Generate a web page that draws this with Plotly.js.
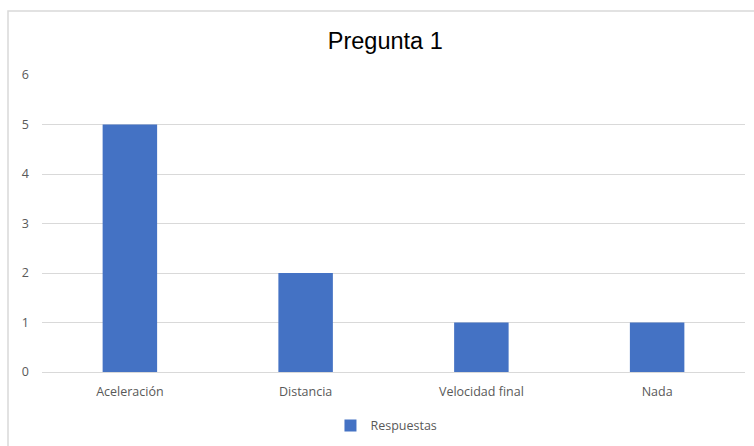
<!DOCTYPE html>
<html>
<head>
<meta charset="utf-8">
<script src="https://cdn.plot.ly/plotly-3.0.1.min.js"></script>
<style>html,body{margin:0;padding:0;background:#fff;}#chart{width:754px;height:446px;}</style>
</head>
<body>
<div id="chart"></div>
<script>
const categories = ["Aceleración", "Distancia", "Velocidad final", "Nada"];
const respuestas = [5, 2, 1, 1];
const seriesName = "Respuestas";
const yTicks = [0, 1, 2, 3, 4, 5, 6];

const trace = {
  type: "bar",
  x: categories,
  y: respuestas,
  name: seriesName,
  width: 0.31,
  marker: {color: "#4472C4"},
  showlegend: true,
  hoverinfo: "x+y"
};

const tickFont = {family: "Open Sans, sans-serif", size: 12.5, color: "#595959"};

const layout = {
  width: 754,
  height: 446,
  margin: {l: 42, r: 9, t: 75, b: 74},
  paper_bgcolor: "#ffffff",
  plot_bgcolor: "#ffffff",
  title: {
    text: "Pregunta 1",
    font: {family: "Liberation Sans, Arial, sans-serif", size: 23.5, color: "#000000"},
    x: 0.511, xanchor: "center", xref: "container",
    y: 0.908, yanchor: "middle", yref: "container"
  },
  xaxis: {
    type: "category",
    showgrid: false,
    zeroline: false,
    showline: false,
    ticks: "",
    ticklabelstandoff: 10,
    tickfont: tickFont,
    fixedrange: true
  },
  yaxis: {
    range: [0, 6],
    tickvals: yTicks,
    ticktext: yTicks.map(String),
    showgrid: true,
    gridcolor: "#d9d9d9",
    gridwidth: 1,
    zeroline: true,
    zerolinecolor: "#d9d9d9",
    zerolinewidth: 1,
    showline: false,
    ticks: "",
    ticklabelstandoff: 12,
    tickfont: tickFont,
    fixedrange: true
  },
  legend: {
    orientation: "h",
    x: 0.49, xanchor: "center",
    y: 0.045, yref: "container", yanchor: "middle",
    font: {family: "Open Sans, sans-serif", size: 12.5, color: "#595959"},
    itemwidth: 30
  },
  shapes: [{
    type: "rect",
    xref: "paper", yref: "paper",
    x0: -34/703, x1: 20/703 + 1,
    y0: -100/297, y1: 1 + 64/297,
    line: {color: "#d9d9d9", width: 1.5},
    fillcolor: "rgba(0,0,0,0)",
    layer: "below"
  }]
};

Plotly.newPlot("chart", [trace], layout, {displayModeBar: false, staticPlot: true});
</script>
</body>
</html>
